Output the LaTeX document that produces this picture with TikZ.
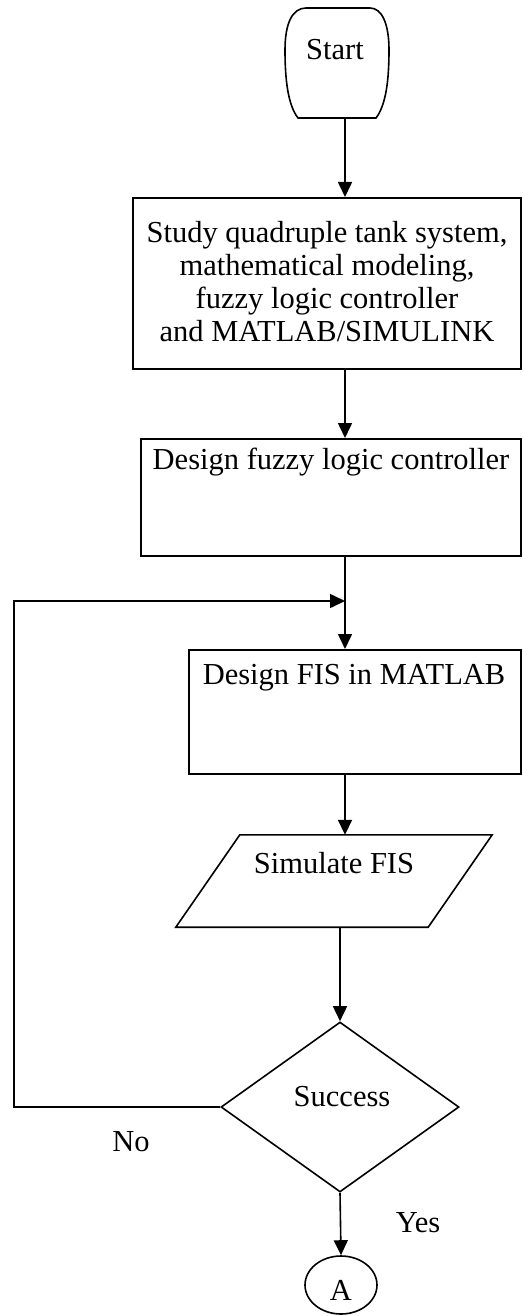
\documentclass[tikz,border=0pt]{standalone}
\usepackage{fontspec}
\setmainfont{Liberation Serif}
\usetikzlibrary{arrows.meta,shapes.geometric,calc}
\begin{document}
\begin{tikzpicture}[x=1pt,y=-1pt,
  ln/.style={line width=1.6pt},
  arr/.style={line width=1.6pt,-{Triangle[length=15pt,width=14pt]}},
  boxnode/.style={draw,line width=1.6pt,anchor=north west,inner sep=0pt},
  txt/.style={font=\fontsize{30.5}{33}\selectfont,align=center,inner sep=0pt}]
\useasboundingbox (0,0) rectangle (522,1316);
\coordinate (ax) at (345,0);
% Start
\node[draw=none,minimum width=102pt,minimum height=110pt] (start) at (337,63) {};
\draw[ln] (306,8) -- (370,8) .. controls (382,8) and (389,24) .. (389,50) .. controls (389,80) and (386,105) .. (376,118) -- (298,118) .. controls (288,105) and (285,80) .. (285,50) .. controls (285,24) and (292,8) .. (306,8) -- cycle;
\node[txt] (startt) at (335,50) {Start};
% Box 1
\node[boxnode,minimum width=388pt,minimum height=171pt] (b1) at (132,197) {};
\node[txt] (b1t) at (327,282) {Study quadruple tank system,\\mathematical modeling,\\fuzzy logic controller\\and MATLAB/SIMULINK};
% Box 2
\node[boxnode,minimum width=380pt,minimum height=117pt] (b2) at (140,438) {};
\node[txt] (b2t) at (331,462) {Design fuzzy logic controller};
% Box 3
\node[boxnode,minimum width=332pt,minimum height=124pt] (b3) at (188,649) {};
\node[txt] (b3t) at (354,678) {Design FIS in MATLAB};
% Parallelogram
\node[draw=none,minimum width=316pt,minimum height=92pt] (sim) at (334,881) {};
\draw[ln] ([xshift=64pt]sim.north west) -- (sim.north east) -- ([xshift=-64pt]sim.south east) -- (sim.south west) -- cycle;
\node[txt] (simt) at (334,863) {Simulate FIS};
% Decision
\node[draw,line width=1.6pt,shape=diamond,minimum width=238pt,minimum height=170pt,inner sep=0pt] (dec) at (340,1107) {};
\node[txt] (dect) at (342,1097) {Success};
% Connector A
\node[draw,line width=1.6pt,shape=ellipse,minimum width=72pt,minimum height=58pt,inner sep=0pt] (a) at (341,1285) {};
\node[txt] (at) at (341,1290) {A};
% Labels
\node[txt] (no) at (131,1142) {No};
\node[txt] (yes) at (418,1223) {Yes};
% Connectors
\draw[arr] (start.south -| ax) -- (b1.north -| ax);
\draw[arr] (b1.south -| ax) -- (b2.north -| ax);
\coordinate (fb) at (14,601);
\draw[arr] (b2.south -| ax) -- (b3.north -| ax);
\draw[arr] (b3.south -| ax) -- (sim.north -| ax);
\draw[arr] (sim.south -| dec.north) -- (dec.north);
\draw[arr] (dec.south) -- (a.north);
\draw[arr] (dec.west) -| (fb) -- (fb -| ax);
\end{tikzpicture}
\end{document}
